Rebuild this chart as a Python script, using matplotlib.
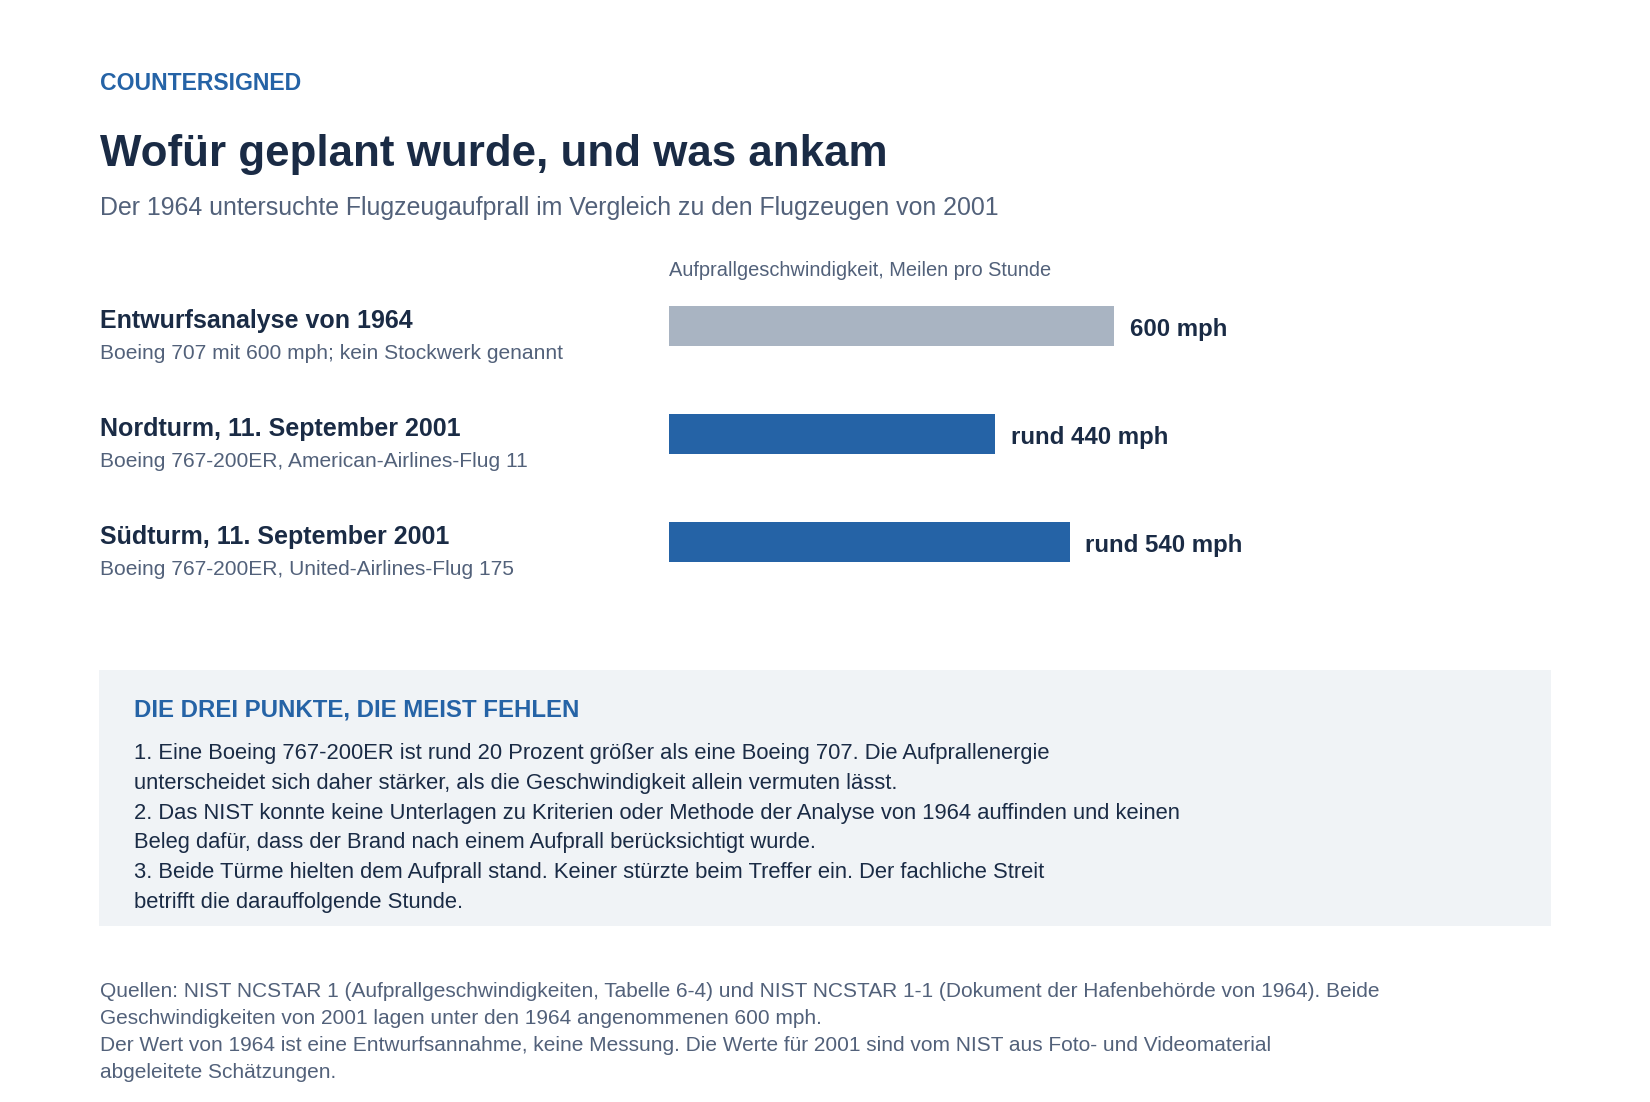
import matplotlib
matplotlib.use("Agg")
import matplotlib.pyplot as plt
import matplotlib.transforms as mtransforms
from matplotlib.patches import Rectangle

# data
row_titles = [
    "Entwurfsanalyse von 1964",
    "Nordturm, 11. September 2001",
    "Südturm, 11. September 2001",
]
row_subtitles = [
    "Boeing 707 mit 600 mph; kein Stockwerk genannt",
    "Boeing 767-200ER, American-Airlines-Flug 11",
    "Boeing 767-200ER, United-Airlines-Flug 175",
]
speeds_mph = [600, 440, 540]
value_labels = ["600 mph", "rund 440 mph", "rund 540 mph"]
bar_colors = ["#a9b4c2", "#2563a6", "#2563a6"]

box_heading = "DIE DREI PUNKTE, DIE MEIST FEHLEN"
box_lines = [
    "1. Eine Boeing 767-200ER ist rund 20 Prozent größer als eine Boeing 707. Die Aufprallenergie",
    "unterscheidet sich daher stärker, als die Geschwindigkeit allein vermuten lässt.",
    "2. Das NIST konnte keine Unterlagen zu Kriterien oder Methode der Analyse von 1964 auffinden und keinen",
    "Beleg dafür, dass der Brand nach einem Aufprall berücksichtigt wurde.",
    "3. Beide Türme hielten dem Aufprall stand. Keiner stürzte beim Treffer ein. Der fachliche Streit",
    "betrifft die darauffolgende Stunde.",
]
footnote_lines = [
    "Quellen: NIST NCSTAR 1 (Aufprallgeschwindigkeiten, Tabelle 6-4) und NIST NCSTAR 1-1 (Dokument der Hafenbehörde von 1964). Beide",
    "Geschwindigkeiten von 2001 lagen unter den 1964 angenommenen 600 mph.",
    "Der Wert von 1964 ist eine Entwurfsannahme, keine Messung. Die Werte für 2001 sind vom NIST aus Foto- und Videomaterial",
    "abgeleitete Schätzungen.",
]

NAVY = "#1a2b45"
BLUE = "#2563a6"
GRAY = "#52617a"
BOX_BG = "#f0f3f6"

W, H = 1650, 1102
DPI = 100
plt.rcParams["font.family"] = ["Liberation Sans", "DejaVu Sans"]

fig = plt.figure(figsize=(W / DPI, H / DPI), dpi=DPI)
fig.patch.set_facecolor("white")


def px(x, y):
    return x / W, 1 - y / H


def ftext(x, y, s, size, color, weight="normal"):
    fx, fy = px(x, y)
    fig.text(fx, fy, s, fontsize=size, color=color, fontweight=weight,
             ha="left", va="baseline")


# header
ftext(100, 90, "COUNTERSIGNED", 16.6, BLUE, "bold")
ftext(100, 166, "Wofür geplant wurde, und was ankam", 31.6, NAVY, "bold")
ftext(100, 215, "Der 1964 untersuchte Flugzeugaufprall im Vergleich zu den Flugzeugen von 2001",
      17.9, GRAY)
ftext(669, 276, "Aufprallgeschwindigkeit, Meilen pro Stunde", 14.4, GRAY)

# bar axes: left edge 669 px, 600 mph -> 445 px
ax_left, ax_right = 669, 1400
ax_top, ax_bottom = 272, 596
l, b = px(ax_left, ax_bottom)
ax = fig.add_axes([l, b, (ax_right - ax_left) / W, (ax_bottom - ax_top) / H])
ax.set_xlim(0, 600 * (ax_right - ax_left) / 445)
ax.set_ylim(len(speeds_mph) - 0.5, -0.5)
ax.axis("off")

ypos = list(range(len(speeds_mph)))
ax.barh(ypos, speeds_mph, height=40 / 108, color=bar_colors)

for y, v, lab in zip(ypos, speeds_mph, value_labels):
    ax.annotate(lab, (v, y), xytext=(11.5, -7.2), textcoords="offset points",
                ha="left", va="baseline", fontsize=17.3, fontweight="bold",
                color=NAVY)

# row labels on the left, aligned to the bar rows
row_tf = mtransforms.blended_transform_factory(fig.transFigure, ax.transData)
for y, t, s in zip(ypos, row_titles, row_subtitles):
    off1 = mtransforms.ScaledTranslation(0, -1.7 / DPI, fig.dpi_scale_trans)
    off2 = mtransforms.ScaledTranslation(0, -33 / DPI, fig.dpi_scale_trans)
    fig.text(100 / W, y, t, transform=row_tf + off1, fontsize=18.0,
             fontweight="bold", color=NAVY, va="baseline")
    fig.text(100 / W, y, s, transform=row_tf + off2, fontsize=15.1,
             color=GRAY, va="baseline")

# info box
bx, by = px(99, 926)
fig.add_artist(Rectangle((bx, by), (1551 - 99) / W, (926 - 670) / H,
                         transform=fig.transFigure, facecolor=BOX_BG,
                         edgecolor="none", zorder=0))
ftext(134, 716, box_heading, 17.3, BLUE, "bold")
for i, line in enumerate(box_lines):
    ftext(134, 759 + i * 29.8, line, 15.8, NAVY)

# footnote
for i, line in enumerate(footnote_lines):
    ftext(100, 997 + i * 27, line, 15.0, GRAY)

fig.savefig("out.png", dpi=DPI, facecolor="white")
